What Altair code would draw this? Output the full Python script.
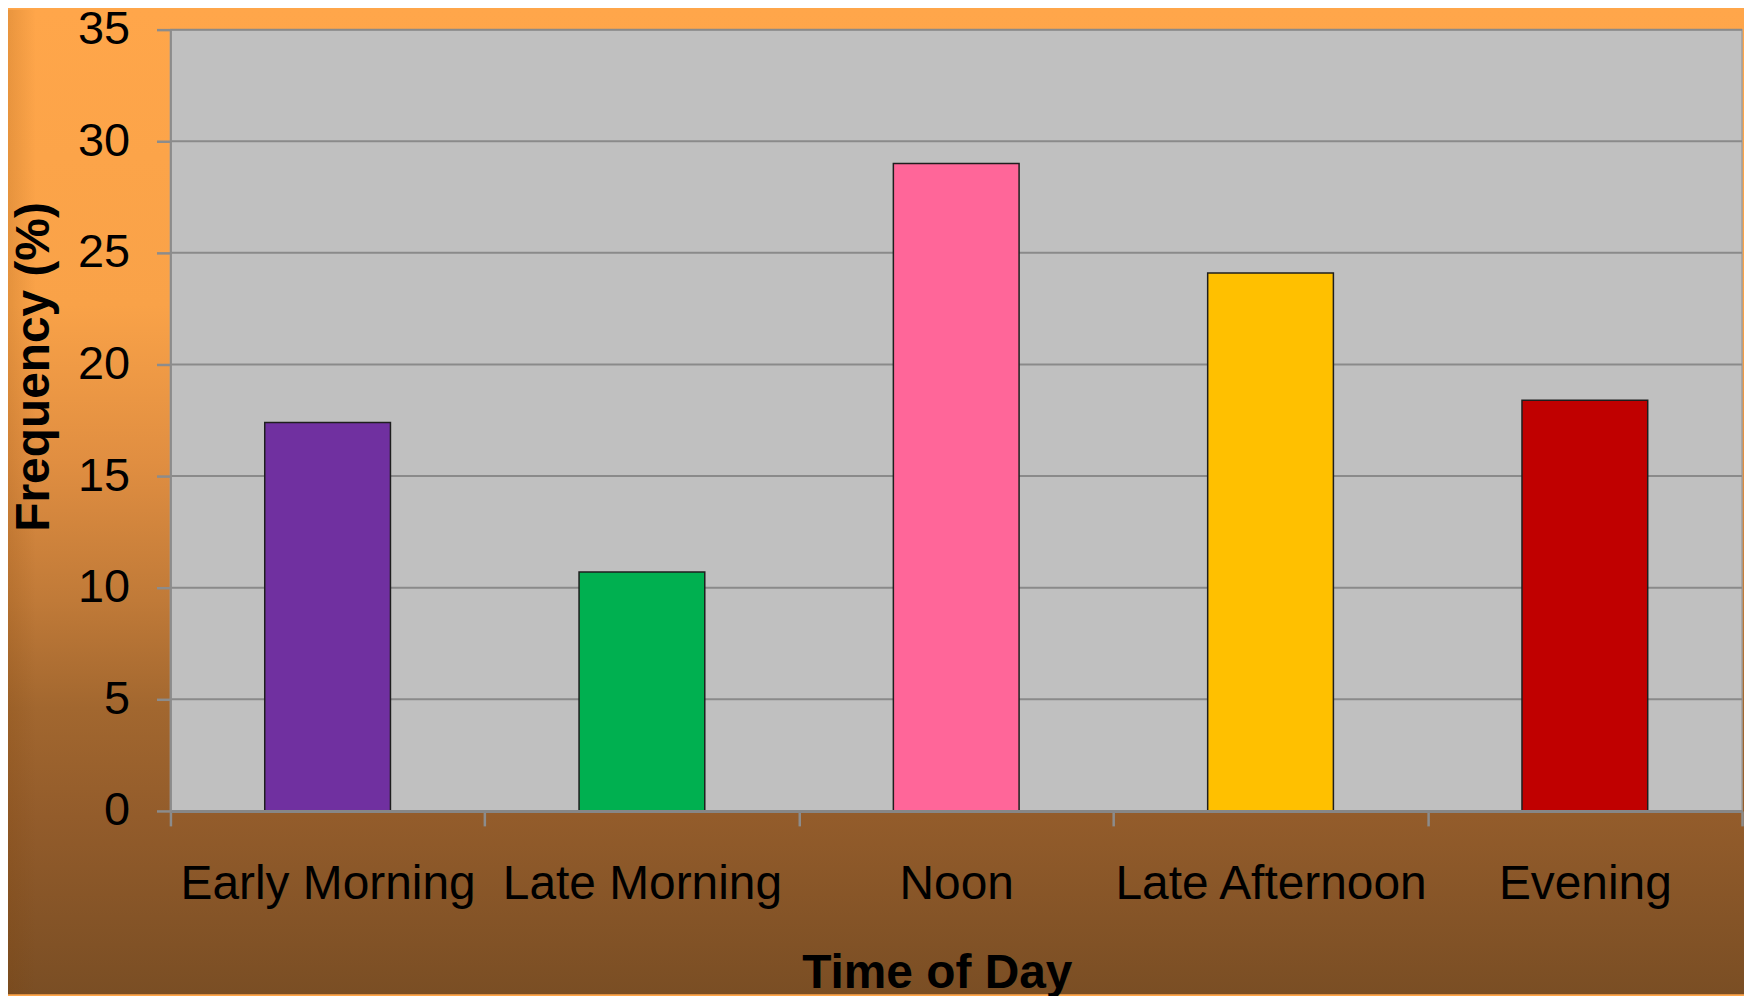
import altair as alt
import pandas as pd

# ---- data ----
categories = ["Early Morning", "Late Morning", "Noon", "Late Afternoon", "Evening"]
frequency = [17.4, 10.7, 29.0, 24.1, 18.4]
bar_colors = ["#7030A0", "#00B050", "#FF6699", "#FFC000", "#C00000"]
y_ticks = [0, 5, 10, 15, 20, 25, 30, 35]

W, H = 1577, 784
PAD = {"left": 163, "top": 20, "right": 2, "bottom": 184}
FONT = "Liberation Sans"

df = pd.DataFrame({"Time": categories, "Freq": frequency})
grid_df = pd.DataFrame({"v": y_ticks[1:]})

yscale = alt.Scale(domain=[0, 35], nice=False)
xscale = alt.Scale(paddingInner=0, paddingOuter=0)

one = alt.Data(values=[{"a": 1}])

# page background gradient (orange -> brown)
bg = alt.Chart(one).mark_rect(
    fill=alt.LinearGradient(
        gradient="linear",
        stops=[
            alt.GradientStop(color="#FFA64A", offset=0),
            alt.GradientStop(color="#F9A248", offset=0.3),
            alt.GradientStop(color="#E08E41", offset=0.46),
            alt.GradientStop(color="#C07A38", offset=0.6),
            alt.GradientStop(color="#A2672F", offset=0.71),
            alt.GradientStop(color="#935C2B", offset=0.82),
            alt.GradientStop(color="#7A4E24", offset=1),
        ],
        x1=0, x2=0, y1=0, y2=1,
    )
).encode(
    x=alt.value(-PAD["left"]), x2=alt.value(W + PAD["right"]),
    y=alt.value(-PAD["top"]), y2=alt.value(H + PAD["bottom"]),
)

# slight darker strip at the far left edge
strip = alt.Chart(one).mark_rect(
    fill=alt.LinearGradient(
        gradient="linear",
        stops=[
            alt.GradientStop(color="rgba(120,60,0,0.16)", offset=0),
            alt.GradientStop(color="rgba(120,60,0,0)", offset=1),
        ],
        x1=0, x2=1, y1=0, y2=0,
    )
).encode(
    x=alt.value(-PAD["left"]), x2=alt.value(-PAD["left"] + 28),
    y=alt.value(-PAD["top"]), y2=alt.value(H + PAD["bottom"]),
)

# plot area
plot_bg = alt.Chart(one).mark_rect(
    fill="#C0C0C0", stroke="#A0A0A0", strokeWidth=1.5
).encode(
    x=alt.value(0), x2=alt.value(W), y=alt.value(0), y2=alt.value(H)
)

grid = alt.Chart(grid_df).mark_rule(color="#8A8A8A", strokeWidth=2).encode(
    y=alt.Y("v:Q", scale=yscale, title="Frequency (%)"),
    x=alt.value(0), x2=alt.value(W),
)

bars = alt.Chart(df).mark_bar(
    width=alt.RelativeBandSize(0.4), stroke="#1E1E1E", strokeWidth=1.5
).encode(
    x=alt.X(
        "Time:N", sort=categories, scale=xscale, title="Time of Day",
        axis=alt.Axis(
            labelAngle=0, tickBand="extent", tickSize=15, tickWidth=2.5,
            tickColor="#8C8C8C", domainColor="#878787", domainWidth=3,
            labelFont=FONT, labelFontSize=48, labelColor="black",
            labelPadding=73, labelBaseline="alphabetic", labelLimit=500,
            titleFont=FONT, titleFontSize=48, titleFontWeight="bold",
            titleColor="black", titleX=769, titleY=177,
            titleBaseline="alphabetic", zindex=1, grid=False,
        ),
    ),
    y=alt.Y(
        "Freq:Q", scale=yscale, title="Frequency (%)",
        axis=alt.Axis(
            values=y_ticks, tickSize=14, tickWidth=2.5, tickColor="#8C8C8C",
            domainColor="#8C8C8C", domainWidth=2,
            labelFont=FONT, labelFontSize=47, labelColor="black",
            labelPadding=27,
            titleFont=FONT, titleFontSize=48, titleFontWeight="bold",
            titleColor="black", titleX=-112, titleY=338, titleLimit=900,
            zindex=1, grid=False,
        ),
    ),
    color=alt.Color(
        "Time:N", scale=alt.Scale(domain=categories, range=bar_colors),
        legend=None,
    ),
)

chart = alt.layer(bg, strip, plot_bg, grid, bars).properties(
    width=W, height=H,
    autosize=alt.AutoSizeParams(type="none"),
    padding=PAD,
    background="#FFA64A",
).configure_view(stroke=None)

chart.save("out.html", embed_options={"renderer": "svg", "actions": False})
